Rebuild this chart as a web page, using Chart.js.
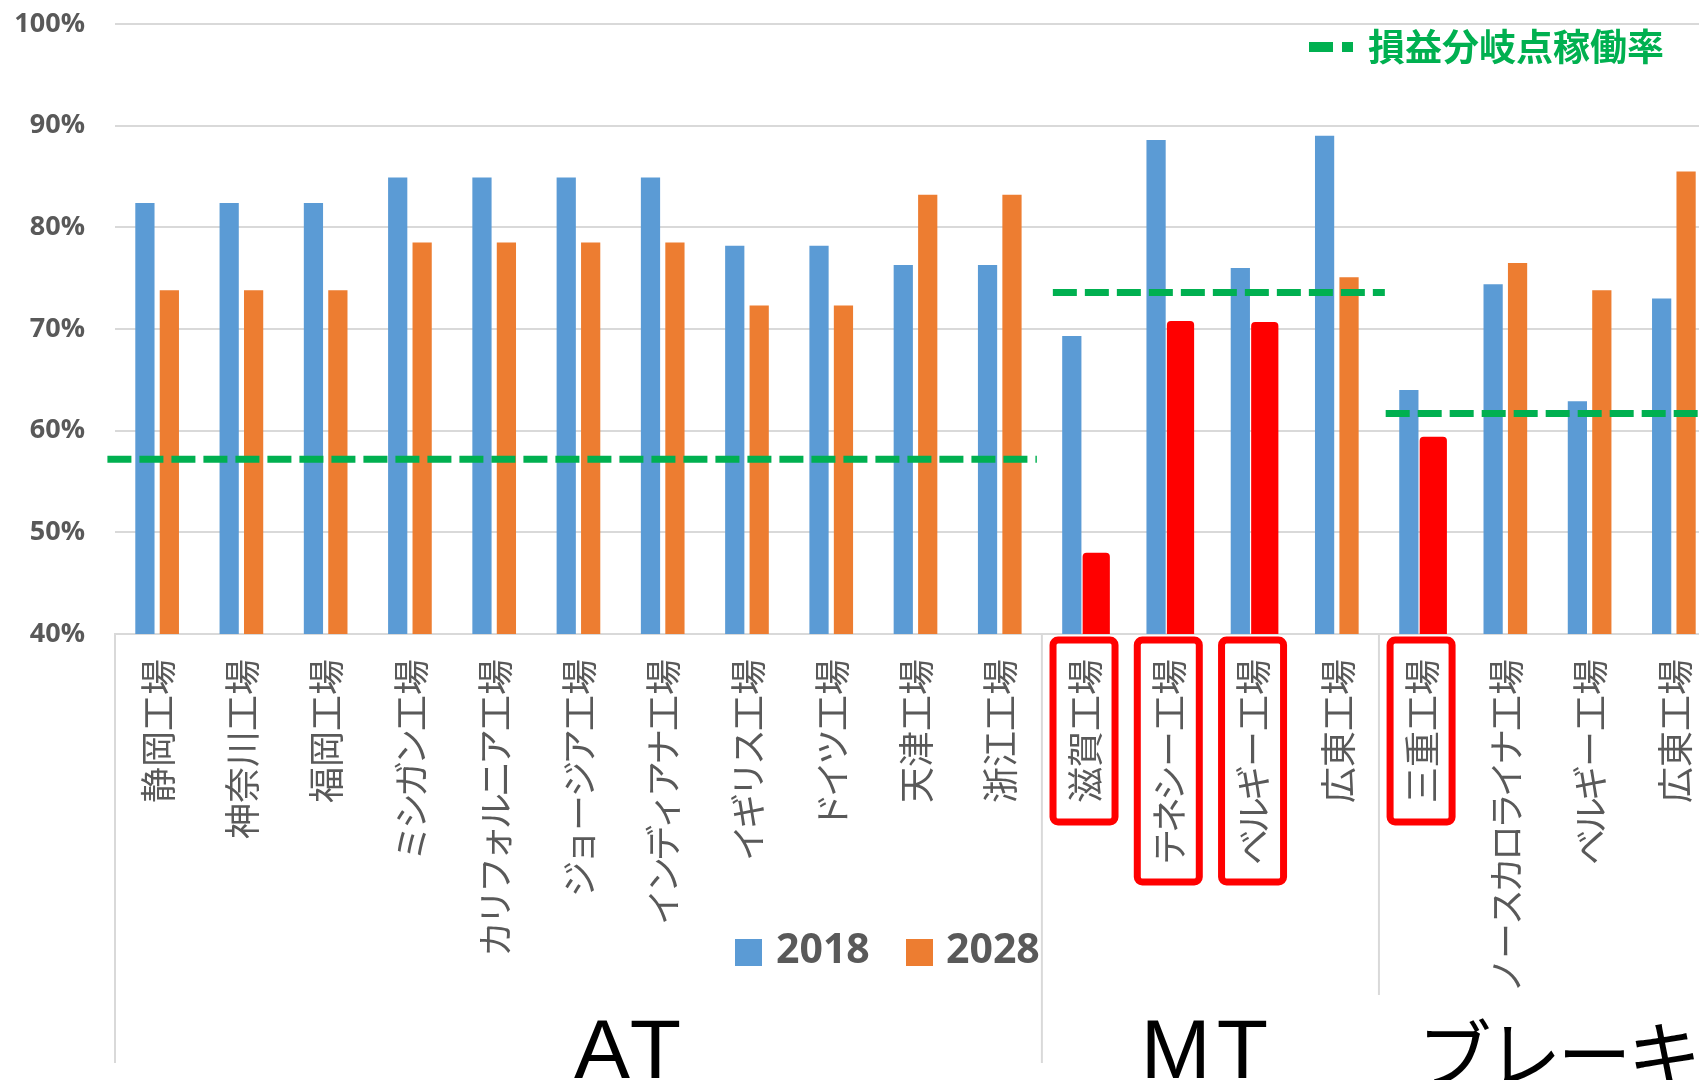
<!DOCTYPE html>
<html lang="ja">
<head>
<meta charset="utf-8">
<title>工場別稼働率</title>
<script src="https://cdn.jsdelivr.net/npm/chart.js@4.4.1/dist/chart.umd.min.js"></script>
<style>
  html, body { margin: 0; padding: 0; background: #fff; overflow: hidden; }
  #wrap { position: relative; width: 1716px; height: 1080px; }
</style>
</head>
<body>
<div id="wrap"><canvas id="chart" width="1716" height="1080"></canvas></div>
<script>
// categories
const plants = [
  '静岡工場', '神奈川工場', '福岡工場', 'ミシガン工場', 'カリフォルニア工場', 'ジョージア工場',
  'インディアナ工場', 'イギリス工場', 'ドイツ工場', '天津工場', '浙江工場',
  '滋賀工場', 'テネシー工場', 'ベルギー工場', '広東工場',
  '三重工場', 'ノースカロライナ工場', 'ベルギー工場', '広東工場'
];
// utilisation (%)
const rate2018 = [82.4, 82.4, 82.4, 84.9, 84.9, 84.9, 84.9, 78.2, 78.2, 76.3, 76.3, 69.3, 88.6, 76.0, 89.0, 64.0, 74.4, 62.9, 73.0];
const rate2028 = [73.8, 73.8, 73.8, 78.5, 78.5, 78.5, 78.5, 72.3, 72.3, 83.2, 83.2, 47.6, 70.4, 70.3, 75.1, 59.0, 76.5, 73.8, 85.5];
// plants that fall under break-even in 2028
const belowBreakEven = [11, 12, 13, 15];

// product groups
const groupNames = ['AT', 'MT', 'ブレーキ'];
const groupFirst = [0, 11, 15];
const groupLast = [10, 14, 18];
const breakEvenRate = [57.2, 73.6, 61.7];
const breakEvenFrom = [-0.09, 11.13, 15.08];
const breakEvenTo = [10.94, 15.07, 19.3];

const yMin = 40, yMax = 100, yStep = 10;

const GRAY = '#595959', GRID = '#d9d9d9', BLUE = '#5b9bd5', ORANGE = '#ed7d31', RED = '#ff0000', GREEN = '#00b050';
const JP = '"Noto Sans CJK JP", "Noto Sans CJK SC", sans-serif';

// slot position of each plant on the x scale
const slot = i => i + 0.5;

function charStep(ch) {
  if (/[\u4e00-\u9fff]/.test(ch) || ch === 'ー') return 36;
  return 32;
}

const decorations = {
  id: 'decorations',
  afterDraw(chart) {
    const ctx = chart.ctx;
    const x = chart.scales.x;
    const area = chart.chartArea;
    const labelTop = area.bottom + 25;
    ctx.save();

    // group separators
    const sepBottom = [1063, 1063, 995];
    ctx.strokeStyle = GRID;
    ctx.lineWidth = 2;
    groupFirst.forEach((first, g) => {
      const sx = x.getPixelForValue(first);
      ctx.beginPath();
      ctx.moveTo(sx, area.bottom);
      ctx.lineTo(sx, sepBottom[g]);
      ctx.stroke();
    });

    // rotated plant names
    ctx.font = '36px ' + JP;
    ctx.fillStyle = GRAY;
    ctx.textAlign = 'center';
    ctx.textBaseline = 'middle';
    plants.forEach((name, i) => {
      const cx = x.getPixelForValue(slot(i));
      const chars = [...name];
      const len = chars.reduce((s, c) => s + charStep(c), 0);
      ctx.save();
      ctx.translate(cx + 1, labelTop);
      ctx.rotate(-Math.PI / 2);
      let pos = -len;
      chars.forEach(c => {
        const w = charStep(c);
        ctx.fillText(c, pos + w / 2, 0);
        pos += w;
      });
      ctx.restore();

      if (belowBreakEven.includes(i)) {
        ctx.save();
        ctx.strokeStyle = RED;
        ctx.lineWidth = 7;
        ctx.beginPath();
        const top = area.bottom + 6;
        ctx.roundRect(cx - 31, top, 62, labelTop + len + 19 - top, 5);
        ctx.stroke();
        ctx.restore();
      }
    });

    // group names
    const shift = [52, -3, 10];
    ctx.fillStyle = '#000';
    ctx.textAlign = 'center';
    ctx.textBaseline = 'alphabetic';
    groupNames.forEach((g, k) => {
      const left = x.getPixelForValue(groupFirst[k]);
      const right = x.getPixelForValue(groupLast[k] + 1);
      if (/[A-Z]/.test(g)) {
        ctx.font = '84px "Liberation Sans", Arial, sans-serif';
        ctx.letterSpacing = '6px';
        ctx.fillText(g, (left + right) / 2 + shift[k], 1078);
      } else {
        ctx.font = '74px ' + JP;
        ctx.letterSpacing = '-4px';
        ctx.fillText(g, (left + right) / 2 + shift[k], 1082);
      }
    });
    ctx.letterSpacing = '0px';

    // series legend
    ctx.font = 'bold 41px "Open Sans", sans-serif';
    ctx.fillStyle = BLUE;
    ctx.fillRect(735, 939, 27, 27);
    ctx.fillStyle = ORANGE;
    ctx.fillRect(906, 939, 27, 27);
    ctx.fillStyle = GRAY;
    ctx.textAlign = 'left';
    ctx.textBaseline = 'middle';
    ctx.fillText(chart.data.datasets[3].label, 776, 951);
    ctx.fillText(chart.data.datasets[4].label, 946, 951);

    // break-even legend
    ctx.fillStyle = GREEN;
    ctx.fillRect(1309, 42, 24, 10);
    ctx.fillRect(1342, 42, 11, 10);
    ctx.font = 'bold 37px ' + JP;
    ctx.fillText('損益分岐点稼働率', 1368, 47);
    ctx.restore();
  }
};

const lineSets = breakEvenRate.map((v, k) => ({
  type: 'line',
  label: '損益分岐点稼働率',
  data: [{ x: breakEvenFrom[k], y: v }, { x: breakEvenTo[k], y: v }],
  borderColor: GREEN,
  borderWidth: 7,
  borderDash: [24, 8],
  borderCapStyle: 'butt',
  pointRadius: 0,
  clip: false,
  order: 0
}));

new Chart(document.getElementById('chart'), {
  type: 'bar',
  data: {
    datasets: [
      ...lineSets,
      {
        label: '2018',
        data: rate2018.map((v, i) => ({ x: slot(i), y: v })),
        backgroundColor: BLUE,
        categoryPercentage: 0.58,
        barPercentage: 0.787,
        order: 1
      },
      {
        label: '2028',
        data: rate2028.map((v, i) => ({ x: slot(i), y: v })),
        backgroundColor: c => belowBreakEven.includes(c.dataIndex) ? RED : ORANGE,
        inflateAmount: c => belowBreakEven.includes(c.dataIndex) ? 4 : 'auto',
        borderRadius: c => belowBreakEven.includes(c.dataIndex) ? 4 : 0,
        categoryPercentage: 0.58,
        barPercentage: 0.787,
        order: 1
      }
    ]
  },
  options: {
    responsive: false,
    devicePixelRatio: 1,
    animation: false,
    layout: { padding: { top: 24, left: 0, right: 0, bottom: 0 } },
    plugins: {
      legend: { display: false },
      tooltip: { enabled: false }
    },
    scales: {
      x: {
        type: 'linear',
        min: 0,
        max: plants.length,
        offset: false,
        grid: { display: false },
        border: { display: true, color: GRID, width: 2 },
        ticks: { display: false, stepSize: 1 },
        afterFit(scale) { scale.height = 446; }
      },
      y: {
        min: yMin,
        max: yMax,
        border: { display: false },
        grid: { color: GRID, lineWidth: 2, drawTicks: true, tickLength: 30, tickColor: 'rgba(0,0,0,0)' },
        ticks: {
          stepSize: yStep,
          padding: 0,
          color: GRAY,
          font: { family: '"Open Sans", sans-serif', size: 27, weight: 'bold' },
          callback: v => v + '%'
        },
        afterFit(scale) { scale.width = 115; }
      }
    }
  },
  plugins: [decorations]
});
</script>
</body>
</html>
